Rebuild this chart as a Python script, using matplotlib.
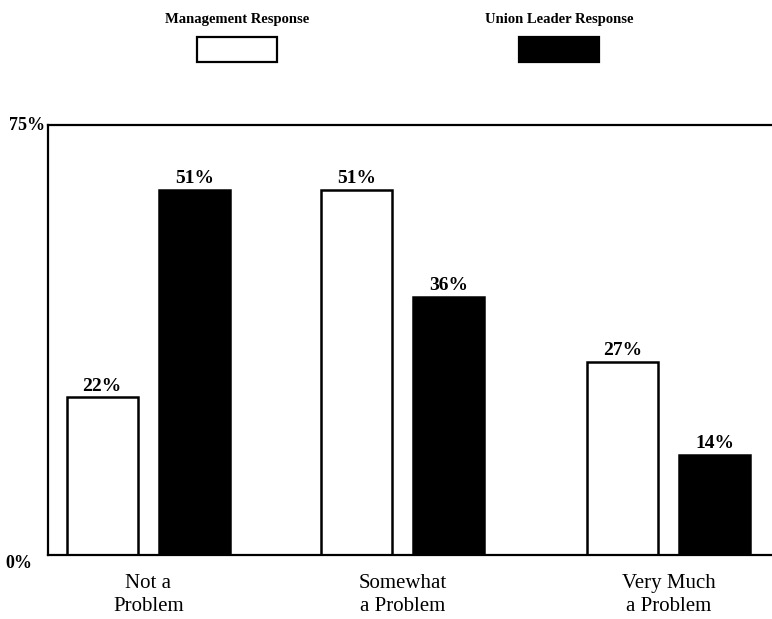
import numpy as np
import matplotlib.pyplot as plt
from matplotlib.patches import Rectangle

categories = ['Not a\nProblem', 'Somewhat\na Problem', 'Very Much\na Problem']
management = [22, 51, 27]
union = [51, 36, 14]
series_names = ['Management Response', 'Union Leader Response']
# the original drawing puts the "75%" line at the height of a 60% bar
axis_top = 60
axis_top_label = '75%'

plt.rcParams['font.family'] = ['Liberation Serif', 'DejaVu Serif']

fig = plt.figure(figsize=(7.72, 6.19), dpi=100)
ax = fig.add_axes([48 / 772, 1 - 555 / 619, 1 - 48 / 772, 430 / 619])

x = np.array([0, 0.977, 2.0])  # middle group sits a little left in the original
width = 0.273
off = 0.178

bars1 = ax.bar(x - off, management, width, color='white', edgecolor='black', linewidth=1.8)
bars2 = ax.bar(x + off, union, width, color='black', edgecolor='black', linewidth=1.8)

for bars, vals in ((bars1, management), (bars2, union)):
    for b, v in zip(bars, vals):
        ax.annotate(f'{v}%', (b.get_x() + b.get_width() / 2, b.get_height()),
                    xytext=(0, 2), textcoords='offset points', ha='center', va='bottom',
                    fontsize=14, fontweight='bold')

ax.set_xlim(-0.3865, 2.398)
ax.set_ylim(0, axis_top)
ax.set_xticks(x)
ax.set_xticklabels(categories, fontsize=15, linespacing=1.28)
ax.tick_params(axis='x', length=0, pad=14)
ax.set_yticks([])
ax.spines['right'].set_visible(False)
for s in ['left', 'top', 'bottom']:
    ax.spines[s].set_linewidth(1.6)

ax.text(-0.004, 1.0, axis_top_label, transform=ax.transAxes, ha='right', va='center',
        fontsize=13, fontweight='bold')
ax.text(-0.022, 0.0, '0%', transform=ax.transAxes, ha='right', va='top',
        fontsize=13, fontweight='bold')

# legend drawn above the plot
legend_x = [237 / 772, 559 / 772]
box_w, box_h = 80 / 772, 25 / 619
for name, cx, fc in zip(series_names, legend_x, ['white', 'black']):
    fig.text(cx, 1 - 20 / 619, name, ha='center', va='center', fontsize=10.5, fontweight='bold')
    fig.patches.append(Rectangle((cx - box_w / 2, 1 - 62 / 619), box_w, box_h,
                                 transform=fig.transFigure, facecolor=fc,
                                 edgecolor='black', linewidth=1.6))

fig.savefig('out.png', dpi=100)
